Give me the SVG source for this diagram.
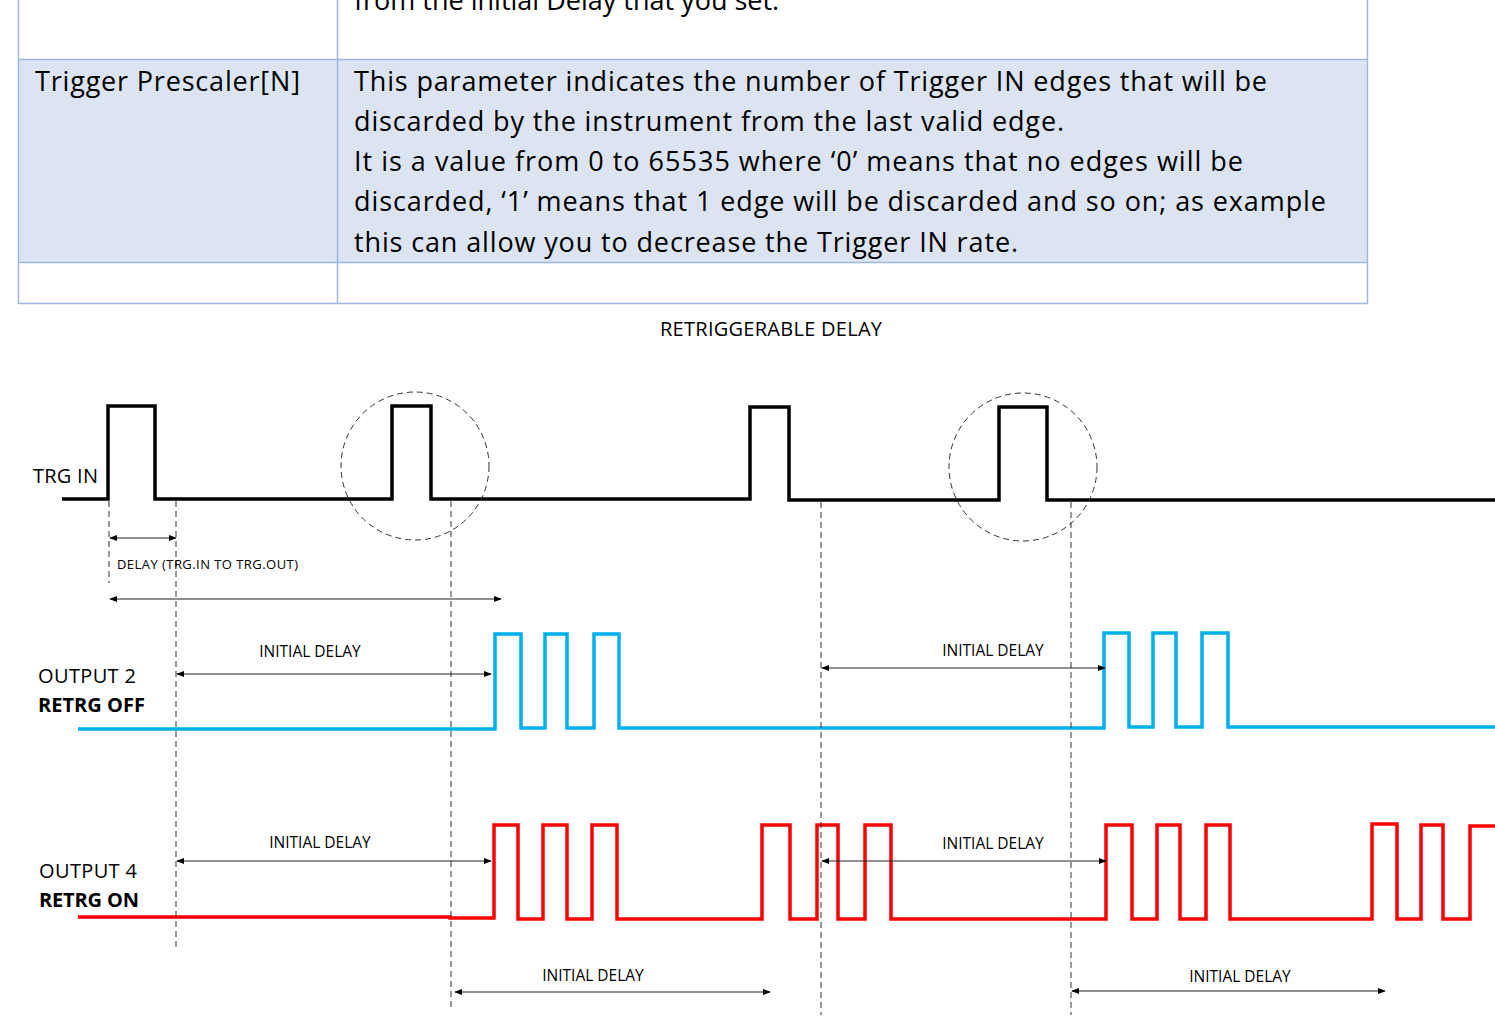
<svg xmlns="http://www.w3.org/2000/svg" width="1495" height="1036" viewBox="0 0 1495 1036">
<style>
.t{font-family:"Open Sans","Liberation Sans",sans-serif;font-size:27px;fill:#000}
.l{font-family:"Open Sans","Liberation Sans",sans-serif;font-size:20px;fill:#000}
.s{font-family:"Open Sans","Liberation Sans",sans-serif;font-size:15.5px;fill:#000}
.xs{font-family:"Open Sans","Liberation Sans",sans-serif;font-size:13px;fill:#000}
.b{font-weight:bold}
.w{fill:none;stroke-width:3.5;stroke-linejoin:miter}
.d{stroke:#333;stroke-width:1;stroke-dasharray:6,4;fill:none}
.a{stroke:#222;stroke-width:1.2;marker-start:url(#h);marker-end:url(#h)}
</style>
<defs><marker id="h" viewBox="0 0 10 10" refX="9" refY="5" markerWidth="8" markerHeight="8" orient="auto-start-reverse" markerUnits="userSpaceOnUse"><path d="M0,1L10,5L0,9z" fill="#000"/></marker></defs>
<rect width="1495" height="1036" fill="#fff"/>
<g id="table">
<rect x="18.5" y="59.5" width="1349" height="203" fill="#dde4f1"/>
<g stroke="#9fb6de" stroke-width="1.5" fill="none">
<path d="M18.5,0V303.5H1367.5V0M337.5,0V303.5M18.5,59.5H1367.5M18.5,262.5H1367.5"/>
</g>
<text class="t" x="354" y="10">from the initial Delay that you set.</text>
<text class="t" x="35" y="91" textLength="265">Trigger Prescaler[N]</text>
<text class="t" x="354" y="91" textLength="913">This parameter indicates the number of Trigger IN edges that will be</text>
<text class="t" x="354" y="131" textLength="710">discarded by the instrument from the last valid edge.</text>
<text class="t" x="354" y="171" textLength="889">It is a value from 0 to 65535 where ‘0’ means that no edges will be</text>
<text class="t" x="354" y="211" textLength="972">discarded, ‘1’ means that 1 edge will be discarded and so on; as example</text>
<text class="t" x="354" y="252" textLength="664">this can allow you to decrease the Trigger IN rate.</text>
</g>
<text class="l" x="771" y="336" text-anchor="middle" textLength="222">RETRIGGERABLE DELAY</text>
<g id="trgin">
<path class="w" stroke="#000" d="M62,499H108V406H155V499H392V406H431V499H750V407H789V500H999V407H1047V500H1495"/>
<text class="l" x="33" y="483" textLength="65">TRG IN</text>
<circle class="d" cx="415" cy="466" r="74"/>
<circle class="d" cx="1023" cy="467" r="74"/>
</g>
<g id="out2">
<path class="w" stroke="#00b0f0" d="M78,729H495V634H521V728H545V634H567V728H594V634H619V728H1104V633H1129V727H1153V633H1176V727H1202V633H1228V727H1495"/>
<text class="l" x="38" y="683" textLength="98">OUTPUT 2</text>
<text class="l b" x="38" y="712" textLength="107">RETRG OFF</text>
</g>
<g id="out4">
<path class="w" stroke="#ff0000" d="M78,917H450V918H494V825H518V919H543V825H567V919H592V825H617V919H762V825H790V919H817V825H838V919H865V825H891V919H1106V825H1132V919H1157V825H1180V919H1206V825H1230V919H1372V824H1397V919H1421V825H1443V919H1470V826H1495"/>
<text class="l" x="39" y="878" textLength="98">OUTPUT 4</text>
<text class="l b" x="39" y="907" textLength="100">RETRG ON</text>
</g>
<g id="connectors">
<path class="d" d="M109,501V583M176,501V948M451,501V1010M821,502V1015M1071,502V1015"/>
<line class="a" x1="110" y1="538" x2="176" y2="538"/>
<line class="a" x1="110" y1="599" x2="501" y2="599"/>
<line class="a" x1="177" y1="674" x2="491" y2="674"/>
<line class="a" x1="822" y1="668" x2="1105" y2="668"/>
<line class="a" x1="177" y1="861" x2="491" y2="861"/>
<line class="a" x1="822" y1="861" x2="1106" y2="861"/>
<line class="a" x1="455" y1="992" x2="770" y2="992"/>
<line class="a" x1="1072" y1="991" x2="1385" y2="991"/>
</g>
<g id="labels">
<text class="xs" x="117" y="569" textLength="181">DELAY (TRG.IN TO TRG.OUT)</text>
<text class="s" x="310" y="657" text-anchor="middle">INITIAL DELAY</text>
<text class="s" x="993" y="656" text-anchor="middle">INITIAL DELAY</text>
<text class="s" x="320" y="848" text-anchor="middle">INITIAL DELAY</text>
<text class="s" x="993" y="849" text-anchor="middle">INITIAL DELAY</text>
<text class="s" x="593" y="981" text-anchor="middle">INITIAL DELAY</text>
<text class="s" x="1240" y="982" text-anchor="middle">INITIAL DELAY</text>
</g>
</svg>
